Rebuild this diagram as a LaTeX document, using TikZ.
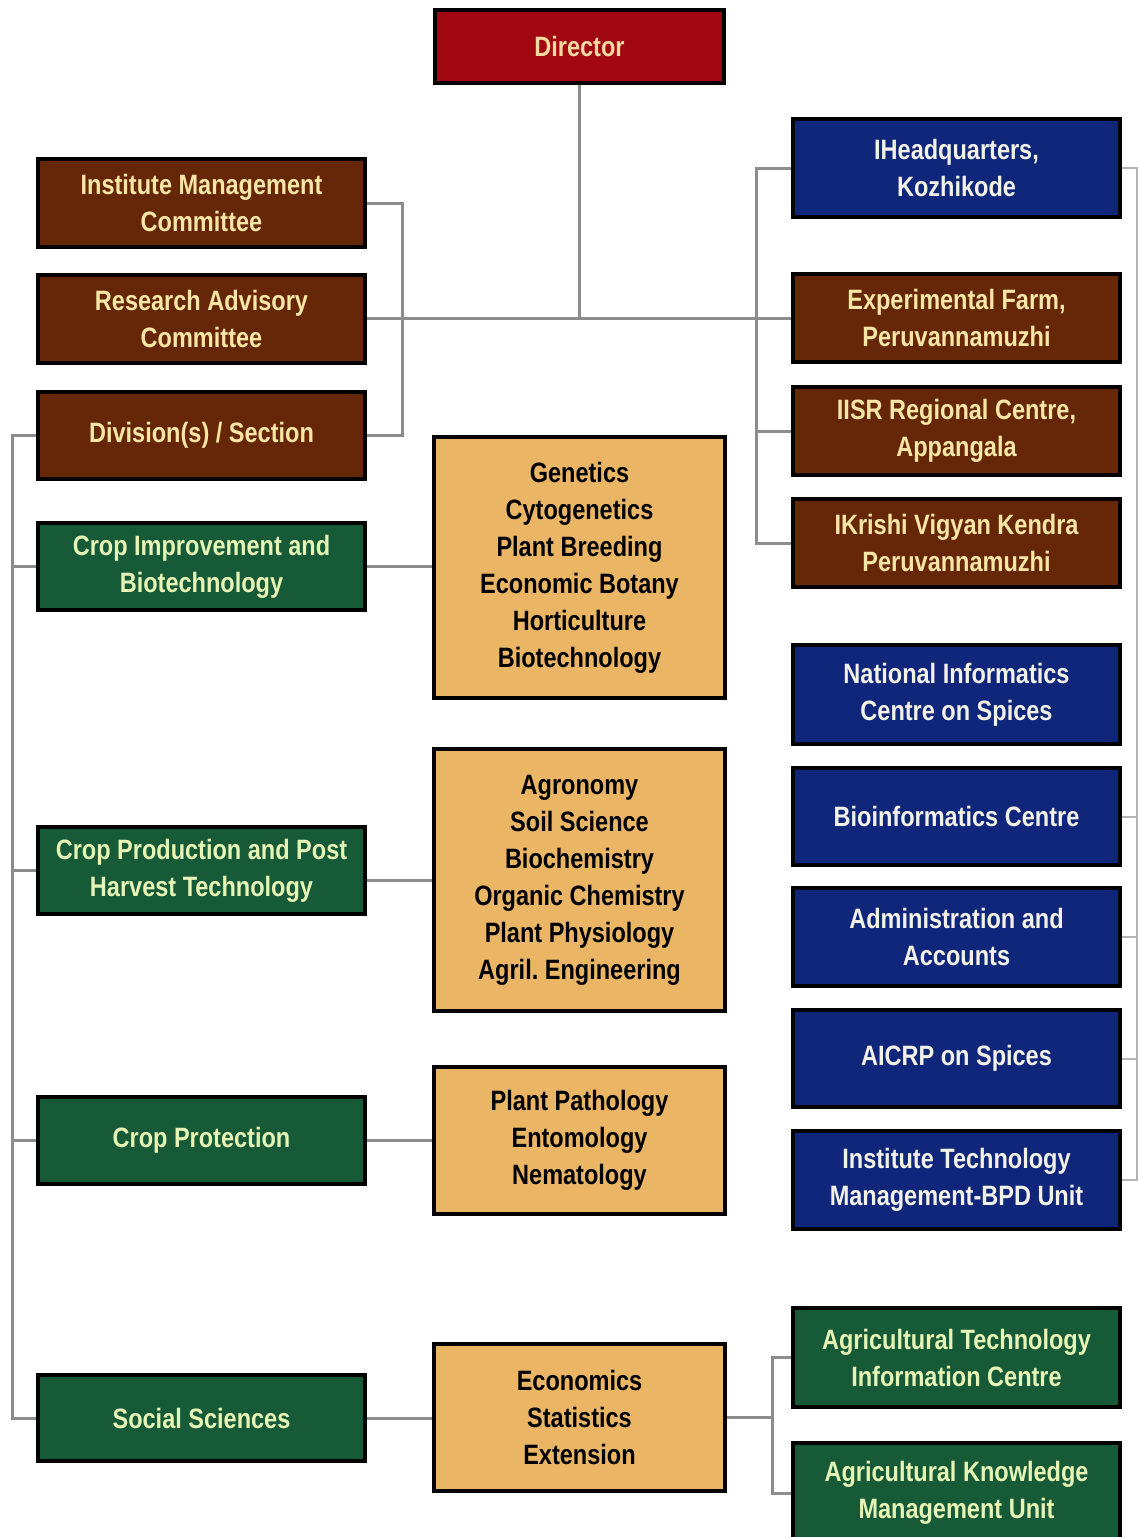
\documentclass[tikz,border=0pt]{standalone}
\usepackage{fontspec}
\setmainfont{Liberation Sans}[FakeStretch=0.84]
\usetikzlibrary{backgrounds}
\definecolor{cDir}{HTML}{A20812}
\definecolor{cBrown}{HTML}{662709}
\definecolor{cGreen}{HTML}{175A37}
\definecolor{cBlue}{HTML}{10267A}
\definecolor{cOrange}{HTML}{EAB666}
\definecolor{tDir}{HTML}{F5D9A2}
\definecolor{tBrown}{HTML}{F7E6A6}
\definecolor{tGreen}{HTML}{E6F5B6}
\definecolor{tBlue}{HTML}{F2F2E8}
\definecolor{cLine}{HTML}{8C8C8C}
\definecolor{cLineL}{HTML}{B4B4B4}
\tikzset{
  basebox/.style={rectangle, draw=black, line width=4pt, inner sep=0pt, outer sep=0pt,
    align=center, font=\bfseries\fontsize{28}{37}\selectfont},
  dirbox/.style={basebox, fill=cDir, text=tDir},
  brownbox/.style={basebox, fill=cBrown, text=tBrown},
  greenbox/.style={basebox, fill=cGreen, text=tGreen},
  bluebox/.style={basebox, fill=cBlue, text=tBlue},
  orangebox/.style={basebox, fill=cOrange, text=black},
  conn/.style={draw=cLine, line width=3pt},
  connlight/.style={draw=cLineL, line width=2pt}
}
\newcommand\bx[7]{\node[#6, minimum width={(#4-#2-4)*1pt}, minimum height={(#5-#3-4)*1pt}] (#1) at ({(#2+#4)/2},{(#3+#5)/2}) {#7};}
\begin{document}
\begin{tikzpicture}[x=1pt,y=-1pt]
\useasboundingbox (0,0) rectangle (1139,1537);
% top
\bx{dir}{433}{8}{726}{85}{dirbox}{Director}
% left committees
\bx{imc}{36}{157}{367}{249}{brownbox}{Institute Management\\Committee}
\bx{rac}{36}{273}{367}{365}{brownbox}{Research Advisory\\Committee}
\bx{div}{36}{390}{367}{481}{brownbox}{Division(s) / Section}
% left divisions
\bx{cib}{36}{521}{367}{612}{greenbox}{Crop Improvement and\\Biotechnology}
\bx{cpp}{36}{825}{367}{916}{greenbox}{Crop Production and Post\\Harvest Technology}
\bx{cp}{36}{1095}{367}{1186}{greenbox}{Crop Protection}
\bx{ss}{36}{1373}{367}{1463}{greenbox}{Social Sciences}
% sections
\bx{gen}{432}{435}{727}{700}{orangebox}{Genetics\\Cytogenetics\\Plant Breeding\\Economic Botany\\Horticulture\\Biotechnology}
\bx{agr}{432}{747}{727}{1013}{orangebox}{Agronomy\\Soil Science\\Biochemistry\\Organic Chemistry\\Plant Physiology\\Agril.\ Engineering}
\bx{pp}{432}{1065}{727}{1216}{orangebox}{Plant Pathology\\Entomology\\Nematology}
\bx{eco}{432}{1342}{727}{1493}{orangebox}{Economics\\Statistics\\Extension}
% right column
\bx{hq}{791}{117}{1122}{219}{bluebox}{IHeadquarters,\\Kozhikode}
\bx{exf}{791}{272}{1122}{364}{brownbox}{Experimental Farm,\\Peruvannamuzhi}
\bx{iisr}{791}{385}{1122}{477}{brownbox}{IISR Regional Centre,\\Appangala}
\bx{kvk}{791}{497}{1122}{589}{brownbox}{IKrishi Vigyan Kendra\\Peruvannamuzhi}
\bx{nic}{791}{643}{1122}{746}{bluebox}{National Informatics\\Centre on Spices}
\bx{bio}{791}{766}{1122}{867}{bluebox}{Bioinformatics Centre}
\bx{adm}{791}{886}{1122}{988}{bluebox}{Administration and\\Accounts}
\bx{aic}{791}{1008}{1122}{1109}{bluebox}{AICRP on Spices}
\bx{itm}{791}{1129}{1122}{1231}{bluebox}{Institute Technology\\Management-BPD Unit}
\bx{atic}{791}{1306}{1122}{1409}{greenbox}{Agricultural Technology\\Information Centre}
\bx{akmu}{791}{1441}{1122}{1545}{greenbox}{Agricultural Knowledge\\Management Unit}
% connectors
\coordinate (bL) at (402,0);
\coordinate (bR) at (756,0);
\coordinate (bus) at (12,0);
\coordinate (bE) at (772,0);
\coordinate (bX) at (1137,0);
\coordinate (hy) at (0,318);
\begin{scope}[on background layer]
\fill[white] (0,0) rectangle (1139,1537);
\draw[conn] (dir.south) -- (dir.south |- hy);
\draw[conn] (rac.east |- hy) -- (exf.west |- hy);
\draw[conn] (imc.east) -- (imc.east -| bL) -- (div.east -| bL) -- (div.east);
\draw[conn] (hq.west) -- (hq.west -| bR) -- (kvk.west -| bR) -- (kvk.west);
\draw[conn] (iisr.west -| bR) -- (iisr.west);
\draw[conn] (div.west) -- (div.west -| bus) -- (ss.west -| bus) -- (ss.west);
\draw[conn] (cib.west -| bus) -- (cib.west);
\draw[conn] (cpp.west -| bus) -- (cpp.west);
\draw[conn] (cp.west -| bus) -- (cp.west);
\draw[conn] (cib.east) -- (cib.east -| gen.west);
\draw[conn] (agr.west -| cpp.east) -- (agr.west);
\draw[conn] (cp.east) -- (cp.east -| pp.west);
\draw[conn] (ss.east) -- (ss.east -| eco.west);
\draw[conn] (eco.east) -- (eco.east -| bE);
\draw[conn] (atic.west) -- (atic.west -| bE) -- (akmu.west -| bE) -- (akmu.west);
\draw[connlight] (hq.east) -- (hq.east -| bX) -- (itm.east -| bX) -- (itm.east);
\draw[connlight] (bio.east -| bX) -- (bio.east);
\draw[connlight] (adm.east -| bX) -- (adm.east);
\draw[connlight] (aic.east -| bX) -- (aic.east);
\end{scope}
\end{tikzpicture}
\end{document}
